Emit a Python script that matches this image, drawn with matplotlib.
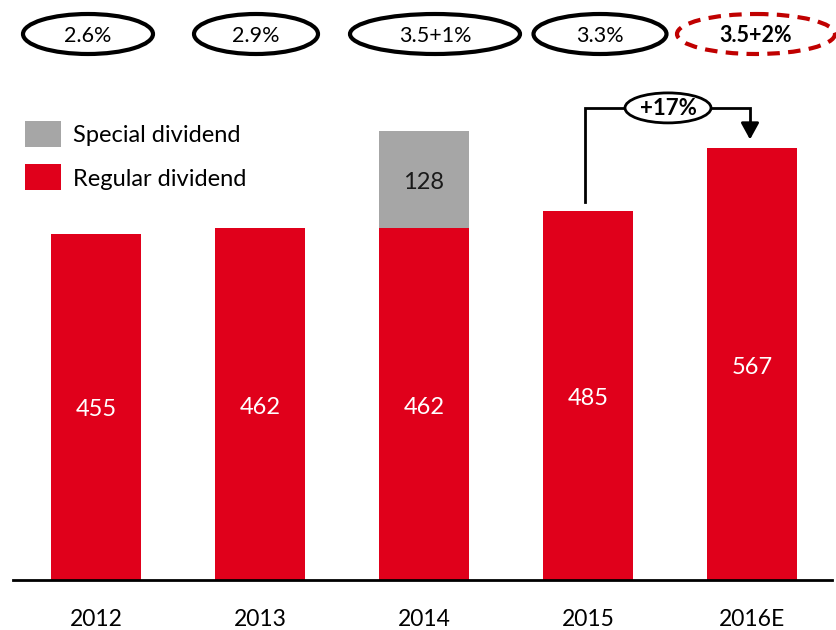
import matplotlib
matplotlib.use("Agg")
import matplotlib.pyplot as plt
from matplotlib.patches import Ellipse, Rectangle

years = ["2012", "2013", "2014", "2015", "2016E"]
regular = [455, 462, 462, 485, 567]
special = [0, 0, 128, 0, 0]
yields = ["2.6%", "2.9%", "3.5+1%", "3.3%", "3.5+2%"]
growth_label = "+17%"

RED = "#E0001B"
GRAY = "#A6A6A6"
DRED = "#C00000"
FONT = ["Lato", "DejaVu Sans"]
plt.rcParams["font.family"] = FONT

W, H = 836, 630
fig = plt.figure(figsize=(W / 100, H / 100), dpi=100)

# main axes: baseline at y=580px, top at y=0
ax = fig.add_axes([0, (H - 580) / H, 1, 580 / H])
upp = 1.314  # units per pixel
ax.set_ylim(0, 580 * upp)
ax.set_xlim((0 - 96) / 164, (836 - 96) / 164)
ax.axis("off")

x = list(range(len(years)))
bw = 90 / 164
ax.bar(x, regular, width=bw, color=RED, zorder=2)
ax.bar(x, special, width=bw, bottom=regular, color=GRAY, zorder=2,
       edgecolor="white", linewidth=0)

# baseline
ax.plot([(13 - 96) / 164, (832 - 96) / 164], [0, 0], color="black", lw=2,
        clip_on=False, zorder=3)

for i, (r, s) in enumerate(zip(regular, special)):
    ax.text(i, r / 2 - 3 * upp, str(r), ha="center", va="center",
            color="white", fontsize=17, zorder=4)
    if s:
        ax.text(i, r + s / 2 - 3 * upp, str(s), ha="center", va="center",
                color="#1a1a1a", fontsize=17, zorder=4)
    ax.text(i, -40 * upp, years[i], ha="center", va="center", color="black",
            fontsize=16.5, clip_on=False)

# growth arrow from 2015 to 2016E
y0 = regular[3] + 9 * upp
ytop = regular[3] + 103 * upp
ytip = regular[4] + 9 * upp
xa = 3 - 3 / 164
xb = 4 - 2 / 164
ax.plot([xa, xa, xb, xb], [y0, ytop, ytop, ytip + 10 * upp], color="black",
        lw=2, zorder=5, solid_joinstyle="miter")
ax.annotate("", xy=(xb, ytip), xytext=(xb, ytip + 14 * upp),
            arrowprops=dict(arrowstyle="-|>,head_width=0.55,head_length=1.0",
                            color="black", lw=2, shrinkA=0, shrinkB=0),
            zorder=6)
ecx = 3 + (667 - 587) / 164
ax.add_patch(Ellipse((ecx, ytop), 86 / 164, 30 * upp, facecolor="white",
                     edgecolor="black", lw=2, zorder=6))
ax.text(ecx, ytop - 1 * upp, growth_label, ha="center", va="center",
        fontsize=16, fontweight="bold", zorder=7)

# legend
ov = fig.add_axes([0, 0, 1, 1])
ov.set_xlim(0, W)
ov.set_ylim(H, 0)
ov.axis("off")
ov.patch.set_alpha(0)
ov.add_patch(Rectangle((25, 121), 36, 26, facecolor=GRAY, edgecolor="none"))
ov.add_patch(Rectangle((25, 164), 36, 26, facecolor=RED, edgecolor="none"))
ov.text(73, 135, "Special dividend", va="center", ha="left", fontsize=17)
ov.text(73, 179, "Regular dividend", va="center", ha="left", fontsize=17)

# top yield ellipses
centers = [88, 256, 435, 600, 756]
widths = [130, 124, 170, 133, 158]
for k, (cx, w, lab) in enumerate(zip(centers, widths, yields)):
    last = k == len(yields) - 1
    ov.add_patch(Ellipse((cx, 34), w, 40, facecolor="white",
                         edgecolor=DRED if last else "black", lw=3,
                         linestyle=(0, (3, 2)) if last else "-"))
    ov.text(cx, 36, lab, ha="center", va="center", fontsize=15.5,
            fontweight="bold" if last else "normal")

fig.savefig("out.png", dpi=100)
